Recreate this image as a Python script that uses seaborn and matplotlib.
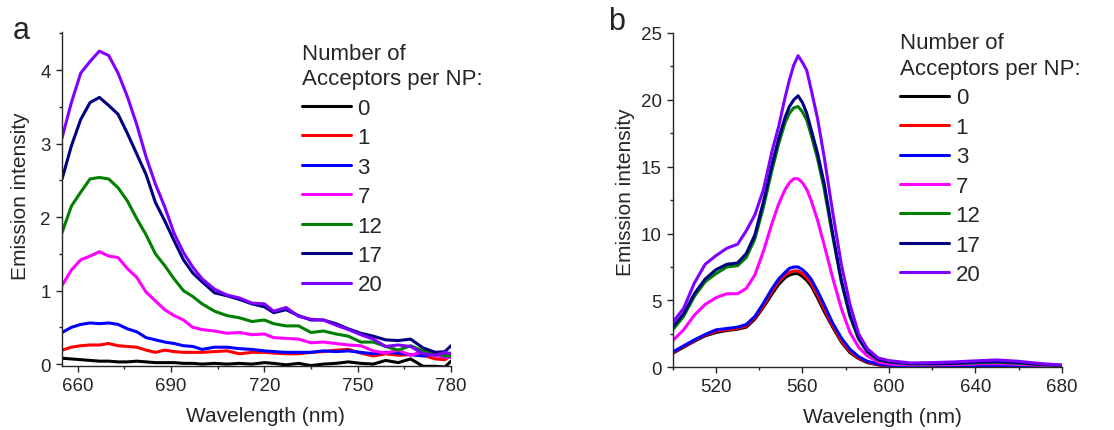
import numpy as np
import pandas as pd
import seaborn as sns
import matplotlib.pyplot as plt
from matplotlib.ticker import MultipleLocator

acceptors = ["0", "1", "3", "7", "12", "17", "20"]
colors = ["#000000", "#ff0000", "#0000ff", "#ff00ff", "#008000", "#000080", "#8000ff"]

# panel a: acceptor emission
wl_a = [655, 658, 661, 664, 667, 670, 673, 676, 679, 682, 685, 688, 691, 694, 697, 700,
        704, 708, 712, 716, 720, 723, 727, 731, 735, 739, 743, 747, 751, 755, 759, 763,
        767, 771, 775, 778, 780]
a_0 = [0.08, 0.07, 0.06, 0.05, 0.04, 0.04, 0.03, 0.03, 0.04, 0.03, 0.02, 0.02, 0.02, 0.01, 0.01, 0.00,
       0.01, 0.00, 0.01, 0.00, 0.02, 0.01, -0.01, 0.01, -0.02, 0.00, 0.01, 0.03, 0.01, 0.00, 0.05, 0.02,
       0.07, -0.03, -0.03, -0.04, 0.04]
a_1 = [0.19, 0.23, 0.25, 0.26, 0.26, 0.28, 0.25, 0.24, 0.23, 0.19, 0.16, 0.19, 0.17, 0.16, 0.16, 0.16,
       0.17, 0.18, 0.14, 0.16, 0.16, 0.15, 0.14, 0.14, 0.16, 0.17, 0.19, 0.20, 0.15, 0.11, 0.14, 0.12,
       0.13, 0.12, 0.07, 0.06, 0.12]
a_3 = [0.43, 0.50, 0.54, 0.56, 0.55, 0.56, 0.54, 0.48, 0.44, 0.36, 0.33, 0.30, 0.28, 0.25, 0.24, 0.20,
       0.23, 0.23, 0.21, 0.20, 0.18, 0.17, 0.16, 0.16, 0.16, 0.18, 0.17, 0.18, 0.16, 0.14, 0.16, 0.15,
       0.13, 0.11, 0.14, 0.13, 0.15]
a_7 = [1.07, 1.28, 1.42, 1.47, 1.53, 1.47, 1.45, 1.30, 1.18, 0.98, 0.86, 0.74, 0.66, 0.60, 0.50, 0.47,
       0.45, 0.42, 0.43, 0.40, 0.41, 0.36, 0.35, 0.34, 0.29, 0.30, 0.28, 0.26, 0.25, 0.18, 0.15, 0.19,
       0.12, 0.17, 0.12, 0.09, 0.09]
a_12 = [1.79, 2.15, 2.34, 2.52, 2.54, 2.52, 2.40, 2.22, 1.98, 1.76, 1.50, 1.34, 1.16, 1.00, 0.92, 0.82,
        0.72, 0.66, 0.63, 0.58, 0.60, 0.55, 0.52, 0.52, 0.43, 0.45, 0.41, 0.38, 0.30, 0.30, 0.24, 0.19,
        0.25, 0.18, 0.15, 0.11, 0.11]
a_17 = [2.52, 2.97, 3.33, 3.56, 3.63, 3.52, 3.40, 3.14, 2.86, 2.58, 2.20, 1.95, 1.68, 1.42, 1.24, 1.12,
        0.97, 0.93, 0.88, 0.82, 0.78, 0.70, 0.74, 0.66, 0.60, 0.60, 0.55, 0.48, 0.42, 0.38, 0.33, 0.32,
        0.34, 0.22, 0.16, 0.17, 0.25]
a_20 = [3.08, 3.56, 3.96, 4.12, 4.26, 4.20, 3.96, 3.64, 3.26, 2.82, 2.45, 2.14, 1.78, 1.52, 1.32, 1.16,
        1.02, 0.94, 0.90, 0.83, 0.82, 0.72, 0.77, 0.65, 0.61, 0.60, 0.53, 0.47, 0.40, 0.34, 0.24, 0.26,
        0.24, 0.14, 0.12, 0.16, 0.14]

# panel b: donor emission
wl_b = [500, 505, 510, 515, 520, 525, 530, 534, 538, 542, 546, 549, 552, 554, 556, 558, 560, 562,
        564, 567, 570, 574, 578, 582, 586, 590, 595, 600, 610, 620, 630, 640, 650, 660, 670, 680]
b_0 = [1.05, 1.5, 1.95, 2.35, 2.6, 2.75, 2.85, 3.0, 3.6, 4.5, 5.5, 6.2, 6.7, 6.9, 7.0, 7.0, 6.8, 6.5,
       6.1, 5.2, 4.2, 3.0, 1.9, 1.1, 0.65, 0.35, 0.18, 0.1, 0.07, 0.06, 0.07, 0.08, 0.09, 0.08, 0.06, 0.05]
b_1 = [1.1, 1.55, 2.0, 2.4, 2.7, 2.8, 2.9, 3.1, 3.7, 4.6, 5.7, 6.4, 6.9, 7.1, 7.2, 7.2, 7.0, 6.7,
       6.3, 5.4, 4.4, 3.1, 2.0, 1.2, 0.7, 0.4, 0.2, 0.12, 0.08, 0.08, 0.08, 0.1, 0.12, 0.1, 0.07, 0.06]
b_3 = [1.15, 1.6, 2.05, 2.45, 2.8, 2.9, 3.0, 3.2, 3.8, 4.8, 5.9, 6.6, 7.1, 7.4, 7.5, 7.5, 7.3, 7.0,
       6.6, 5.7, 4.7, 3.3, 2.2, 1.35, 0.8, 0.45, 0.25, 0.15, 0.1, 0.1, 0.1, 0.12, 0.15, 0.12, 0.08, 0.07]
b_7 = [2.0, 2.8, 3.9, 4.7, 5.2, 5.5, 5.5, 5.9, 6.9, 8.7, 10.8, 12.2, 13.3, 13.8, 14.1, 14.1, 13.8, 13.3,
       12.5, 11.0, 9.2, 6.7, 4.4, 2.6, 1.5, 0.85, 0.4, 0.25, 0.18, 0.18, 0.2, 0.25, 0.28, 0.22, 0.15, 0.1]
b_12 = [2.8, 3.8, 5.3, 6.4, 7.0, 7.5, 7.6, 8.2, 9.6, 12.0, 14.8, 16.7, 18.3, 19.0, 19.4, 19.5, 19.1, 18.5,
        17.4, 15.6, 13.4, 9.8, 6.4, 3.8, 2.1, 1.15, 0.55, 0.38, 0.25, 0.25, 0.28, 0.33, 0.38, 0.3, 0.2, 0.13]
b_17 = [3.0, 4.0, 5.5, 6.6, 7.3, 7.7, 7.8, 8.5, 9.9, 12.4, 15.2, 17.1, 18.7, 19.5, 20.0, 20.3, 19.8, 19.0,
        17.8, 16.0, 13.8, 10.0, 6.5, 3.9, 2.2, 1.2, 0.6, 0.4, 0.28, 0.28, 0.3, 0.38, 0.42, 0.35, 0.22, 0.15]
b_20 = [3.36, 4.4, 6.3, 7.7, 8.35, 8.9, 9.2, 10.2, 11.4, 13.3, 16.2, 18.0, 20.2, 21.5, 22.6, 23.3, 22.8, 22.2,
        20.8, 18.6, 15.8, 11.6, 7.7, 4.7, 2.5, 1.4, 0.7, 0.5, 0.33, 0.35, 0.4, 0.48, 0.55, 0.45, 0.28, 0.17]


def long_df(wl, series):
    frames = []
    for n, vals in zip(acceptors, series):
        frames.append(pd.DataFrame({"wl": wl, "I": vals, "n": n}))
    return pd.concat(frames, ignore_index=True)


df_a = long_df(wl_a, [a_0, a_1, a_3, a_7, a_12, a_17, a_20])
df_b = long_df(wl_b, [b_0, b_1, b_3, b_7, b_12, b_17, b_20])

sns.set_style("ticks")
plt.rcParams["font.family"] = ["Liberation Sans", "DejaVu Sans"]
plt.rcParams["axes.linewidth"] = 1.0
for ax_name in ["xtick", "ytick"]:
    plt.rcParams[f"{ax_name}.major.width"] = 1.0
    plt.rcParams[f"{ax_name}.minor.width"] = 1.0
    plt.rcParams[f"{ax_name}.major.size"] = 4
    plt.rcParams[f"{ax_name}.minor.size"] = 2.5

fig = plt.figure(figsize=(11.14, 4.31), dpi=100)
ax_a = fig.add_axes([0.0557, 0.1478, 0.3492, 0.7756])
ax_b = fig.add_axes([0.6039, 0.1455, 0.3492, 0.7757])

panels = [
    (ax_a, df_a, (655, 780), (-0.03, 4.52), 30, 15, 1, 0.5, (0.271, 0.899), "a", (0.0117, 0.9095),
     (-0.082, 0.512), 0.522),
    (ax_b, df_b, (500, 680), (0, 25), 40, 20, 5, 2.5, (0.808, 0.923), "b", (0.5458, 0.930),
     (-0.097, 0.526), 0.538),
]

for ax, df, xl, yl, xmaj, xmin, ymaj, ymin, leg_xy, letter, let_xy, ylab_xy, xlab_x in panels:
    sns.lineplot(data=df, x="wl", y="I", hue="n", hue_order=acceptors, palette=colors,
                 estimator=None, sort=False, lw=2.2, ax=ax)
    ax.set_xlim(*xl)
    ax.set_ylim(*yl)
    ax.xaxis.set_major_locator(MultipleLocator(xmaj))
    ax.xaxis.set_minor_locator(MultipleLocator(xmin))
    ax.yaxis.set_major_locator(MultipleLocator(ymaj))
    ax.yaxis.set_minor_locator(MultipleLocator(ymin))
    ax.tick_params(axis="both", which="both", direction="out", labelsize=13.5, pad=4)
    sns.despine(ax=ax)
    ax.set_xlabel("Wavelength (nm)", fontsize=15)
    ax.set_ylabel("Emission intensity", fontsize=15)
    ax.yaxis.set_label_coords(*ylab_xy)
    ax.xaxis.set_label_coords(xlab_x, -0.118)

    handles, labels = ax.get_legend_handles_labels()
    leg = ax.legend(handles, labels, title="Number of\nAcceptors per NP:", frameon=False,
                    loc="upper left", bbox_to_anchor=leg_xy, bbox_transform=fig.transFigure,
                    fontsize=16, title_fontsize=16, handlelength=2.2, handletextpad=0.3,
                    labelspacing=0.38, borderpad=0, borderaxespad=0, alignment="left")
    leg.get_title().set_linespacing(1.3)
    for h in leg.legend_handles:
        h.set_linewidth(2.2)
    fig.text(let_xy[0], let_xy[1], letter, fontsize=22, ha="left", va="baseline")

fig.savefig("out.png", dpi=100)
